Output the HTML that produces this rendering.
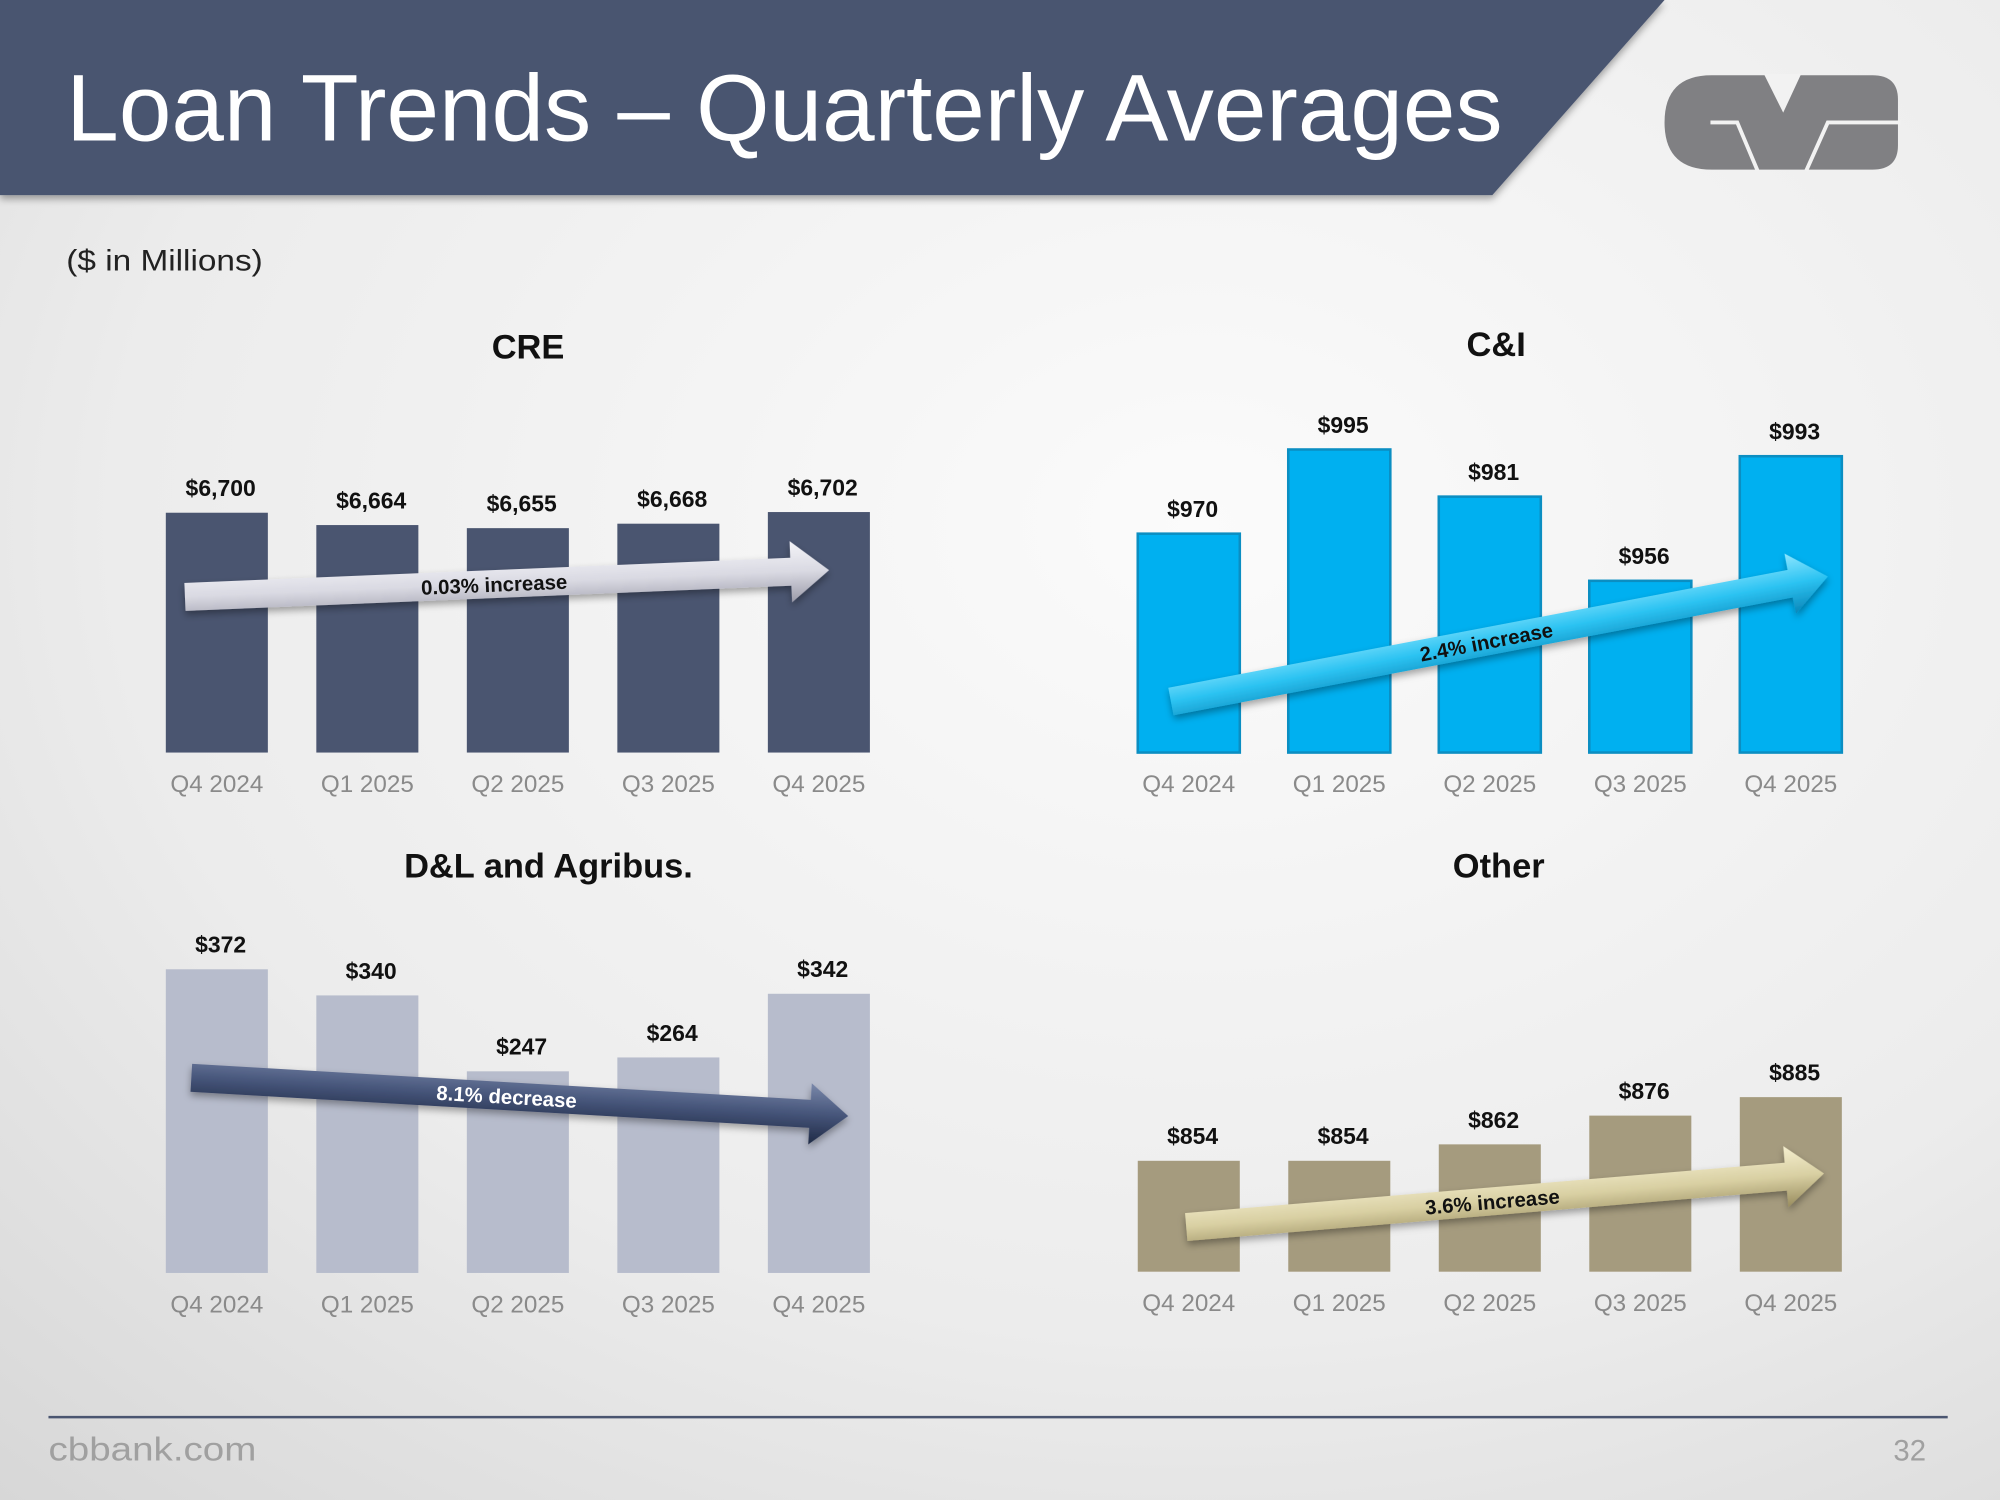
<!DOCTYPE html>
<html><head><meta charset="utf-8"><style>
html,body{margin:0;padding:0;width:2000px;height:1500px;overflow:hidden;}
svg{display:block;font-family:"Liberation Sans",sans-serif;}
</style></head><body>
<svg id="slide" width="2000" height="1500" viewBox="0 0 1568 1176" xmlns="http://www.w3.org/2000/svg">
<defs>
<radialGradient id="bg" cx="0.6" cy="0.35" r="0.9"><stop offset="0" stop-color="#fbfbfb"/><stop offset="0.6" stop-color="#ececec"/><stop offset="1" stop-color="#d6d6d6"/></radialGradient>
<linearGradient id="gWhite" x1="0" y1="0" x2="0" y2="1"><stop offset="0" stop-color="#f4f4f8"/><stop offset="0.5" stop-color="#d9d9e2"/><stop offset="1" stop-color="#9a9aa8"/></linearGradient>
<linearGradient id="gCyan" x1="0" y1="0" x2="0" y2="1"><stop offset="0" stop-color="#8ee6ff"/><stop offset="0.5" stop-color="#2cc3f2"/><stop offset="1" stop-color="#0a86b8"/></linearGradient>
<linearGradient id="gNavy" x1="0" y1="0" x2="0" y2="1"><stop offset="0" stop-color="#7a88aa"/><stop offset="0.5" stop-color="#46557a"/><stop offset="1" stop-color="#1f2a45"/></linearGradient>
<linearGradient id="gTan" x1="0" y1="0" x2="0" y2="1"><stop offset="0" stop-color="#f5efcf"/><stop offset="0.5" stop-color="#d8cfa2"/><stop offset="1" stop-color="#988c5e"/></linearGradient>
<filter id="sh" x="-10%" y="-10%" width="120%" height="140%"><feDropShadow dx="0" dy="3" stdDeviation="3" flood-color="#000" flood-opacity="0.35"/></filter>
</defs>
<rect width="1568" height="1176" fill="url(#bg)"/>
<polygon points="0,0 1305,0 1170,153 0,153" fill="#4a5570" filter="url(#sh)"/>
<text x="52" y="110" font-size="74" fill="#ffffff" textLength="1126" lengthAdjust="spacingAndGlyphs">Loan Trends – Quarterly Averages</text>
<g>
<path d="M1342,59 H1468 Q1488,59 1488,78 V114 Q1488,133 1468,133 H1342 Q1305,133 1305,96 Q1305,59 1342,59 Z" fill="#808083"/>
<polyline points="1341,96 1362,96 1378,134" fill="none" stroke="#f2f2f2" stroke-width="3"/>
<polyline points="1384,58 1398,86 1411,58" fill="#f2f2f2" stroke="#f2f2f2" stroke-width="2"/>
<polyline points="1416,134 1433,96 1490,96" fill="none" stroke="#f2f2f2" stroke-width="3"/>
</g>
<text x="52" y="212" font-size="23" fill="#222" textLength="154" lengthAdjust="spacingAndGlyphs">($ in Millions)</text>
<line x1="38" y1="1111" x2="1527" y2="1111" stroke="#4a5570" stroke-width="2"/>
<text x="38" y="1145" font-size="26" fill="#a0a0a0" textLength="163" lengthAdjust="spacingAndGlyphs">cbbank.com</text>
<text x="1510" y="1145" font-size="23" fill="#a0a0a0" text-anchor="end">32</text>
<g id="charts"></g>
</svg>
<script>
const categories = ["Q4 2024","Q1 2025","Q2 2025","Q3 2025","Q4 2025"];
const creValues = [6700,6664,6655,6668,6702];
const ciValues = [970,995,981,956,993];
const dlValues = [372,340,247,264,342];
const otherValues = [854,854,862,876,885];
const creArrowText = "0.03% increase";
const ciArrowText = "2.4% increase";
const dlArrowText = "8.1% decrease";
const otherArrowText = "3.6% increase";

const NS = "http://www.w3.org/2000/svg";
const root = document.getElementById('charts');
function mk(tag, attrs, parent){const e=document.createElementNS(NS,tag);for(const k in attrs)e.setAttribute(k,attrs[k]);(parent||root).appendChild(e);return e;}

function chart(cfg){
  const g = mk('g',{});
  
  
  const t = mk('text',{x:cfg.titleX,y:cfg.titleY,'font-size':27,'font-weight':'bold','text-anchor':'middle',fill:'#111'},g);
  t.textContent = cfg.title;
  
  
  const y = v => cfg.base - (v - cfg.min) * cfg.k;
  const bw = 80, step = 118;
  cfg.values.forEach((v,i)=>{
    const x = cfg.x0 + i*step;
    const r = mk('rect',{x:x,y:y(v),width:bw,height:cfg.base-y(v),fill:cfg.fill,stroke:cfg.stroke||'none','stroke-width':2},g);
    
    
    const lb = mk('text',{x:x+bw/2+3,y:y(v)-13,'font-size':18,'font-weight':'bold','text-anchor':'middle',fill:'#111'},g);
    lb.textContent = '$' + v.toLocaleString('en-US');
    
    
    const cl = mk('text',{x:x+bw/2,y:cfg.base+31,'font-size':19,'text-anchor':'middle',fill:'#8a8a8a'},g);
    cl.textContent = categories[i];
    
    
  });
  const a = cfg.arrow;
  const dx=a[2]-a[0], dy=a[3]-a[1], L=Math.hypot(dx,dy), ang=Math.atan2(dy,dx)*180/Math.PI;
  const ag = mk('g',{transform:`translate(${a[0]},${a[1]}) rotate(${ang})`},g);
  
  
  mk('path',{d:`M0,-11 H${L-30} V-24 L${L},0 L${L-30},24 V11 H0 Z`,fill:cfg.arrowFill,filter:'url(#sh)'},ag);
  const at = mk('text',{x:L*0.48,y:6,'font-size':16,'font-weight':'bold','text-anchor':'middle',fill:cfg.arrowTextFill||'#111'},ag);
  at.textContent = cfg.arrowText;
  
  
}

chart({name:'cre-chart',title:'CRE',titleX:414,titleY:281,values:creValues,min:6000,k:0.2686,base:590,x0:130,fill:'#4a5570',arrow:[145,468,650,447],arrowFill:'url(#gWhite)',arrowText:creArrowText});
chart({name:'ci-chart',title:'C&I',titleX:1173,titleY:279,values:ciValues,min:905,k:2.64,base:590,x0:892,fill:'#00b0f0',stroke:'#0b8ec2',arrow:[918,550,1433,452],arrowFill:'url(#gCyan)',arrowText:ciArrowText});
chart({name:'dl-agribus-chart',title:'D&L and Agribus.',titleX:430,titleY:688,values:dlValues,min:0,k:0.64,base:998,x0:130,fill:'#b7bccc',arrow:[150,845,665,875],arrowFill:'url(#gNavy)',arrowText:dlArrowText,arrowTextFill:'#ffffff'});
chart({name:'other-chart',title:'Other',titleX:1175,titleY:688,values:otherValues,min:800,k:1.61,base:997,x0:892,fill:'#a59b7e',arrow:[930,962,1430,920],arrowFill:'url(#gTan)',arrowText:otherArrowText});
</script>
</body></html>
